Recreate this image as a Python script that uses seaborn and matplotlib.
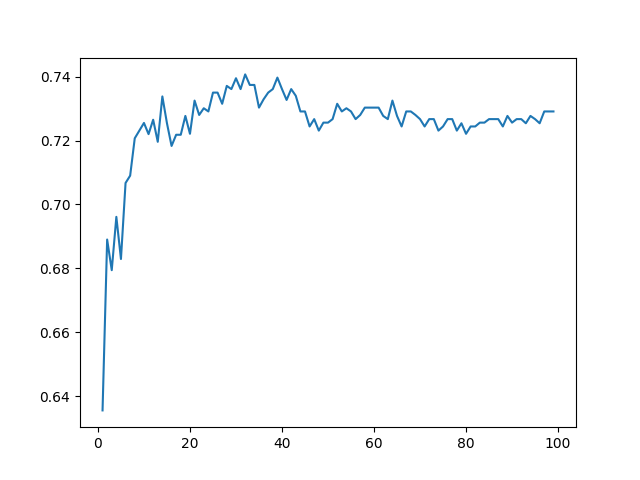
import matplotlib
matplotlib.use("Agg")
import matplotlib.pyplot as plt
import seaborn as sns
import pandas as pd

# accuracy per step
steps = list(range(1, 100))
accuracy = [
    0.6355, 0.6890, 0.6794, 0.6961, 0.6829, 0.7067, 0.7090, 0.7207, 0.7231, 0.7255,
    0.7220, 0.7265, 0.7196, 0.7338, 0.7254, 0.7183, 0.7218, 0.7218, 0.7277, 0.7221,
    0.7325, 0.7280, 0.7301, 0.7291, 0.7350, 0.7350, 0.7315, 0.7371, 0.7361, 0.7395,
    0.7361, 0.7407, 0.7374, 0.7374, 0.7303, 0.7329, 0.7350, 0.7361, 0.7397, 0.7361,
    0.7327, 0.7361, 0.7340, 0.7291, 0.7291, 0.7244, 0.7267, 0.7231, 0.7256, 0.7256,
    0.7267, 0.7315, 0.7291, 0.7301, 0.7291, 0.7267, 0.7280, 0.7303, 0.7303, 0.7303,
    0.7303, 0.7277, 0.7267, 0.7325, 0.7277, 0.7244, 0.7291, 0.7291, 0.7280, 0.7267,
    0.7244, 0.7267, 0.7267, 0.7231, 0.7244, 0.7267, 0.7267, 0.7231, 0.7254, 0.7221,
    0.7244, 0.7244, 0.7256, 0.7256, 0.7267, 0.7267, 0.7267, 0.7244, 0.7277, 0.7256,
    0.7267, 0.7267, 0.7254, 0.7277, 0.7267, 0.7254, 0.7291, 0.7291, 0.7291,
]

df = pd.DataFrame({"step": steps, "accuracy": accuracy})

fig, ax = plt.subplots(figsize=(6.4, 4.8), dpi=100)
sns.lineplot(data=df, x="step", y="accuracy", ax=ax, color="tab:blue")
ax.set_xlabel("")
ax.set_ylabel("")

plt.savefig("out.png")
